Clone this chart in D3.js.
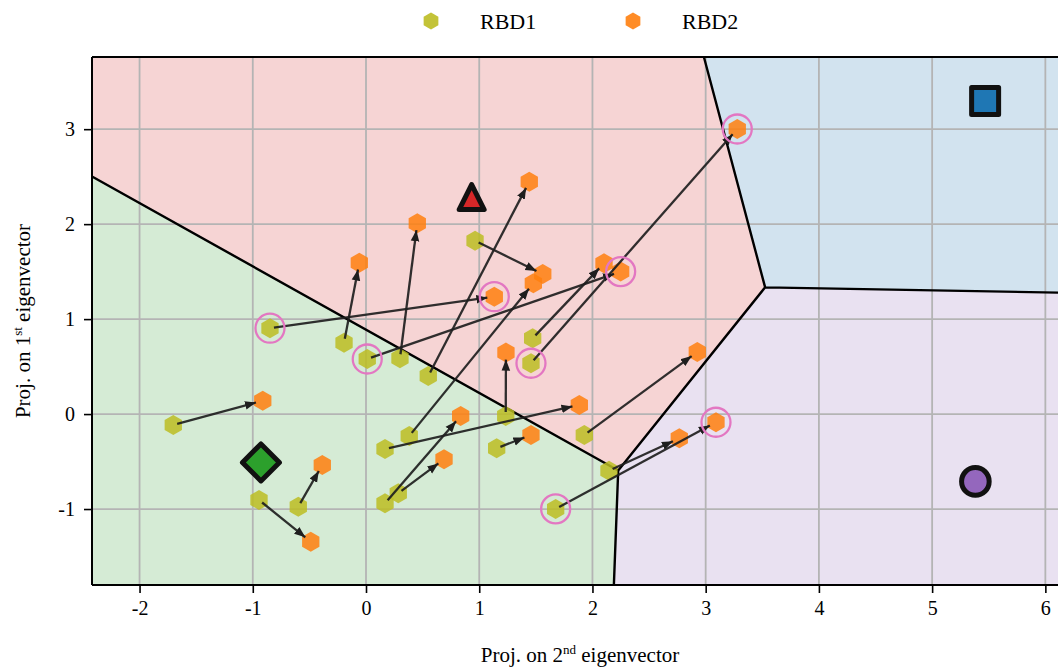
<!DOCTYPE html>
<html>
<head>
<meta charset="utf-8">
<script src="https://cdn.jsdelivr.net/npm/d3@7"></script>
<style>
  html, body { margin: 0; padding: 0; background: #ffffff; }
  svg { display: block; font-family: "Liberation Serif", "Times New Roman", serif; }
  svg text { font-family: "Liberation Serif", "Times New Roman", serif !important; }
</style>
</head>
<body>
<svg id="chart" width="1058" height="668"></svg>
<script>
// Class centroids (projection on 2nd / 1st eigenvector)
const centroidNames = ["red", "blue", "purple", "green"];
const centroidX = [0.933, 5.468, 5.382, -0.928];
const centroidY = [2.285, 3.296, -0.709, -0.509];
const centroidShapes = ["triangle", "square", "circle", "diamond"];

// Paired samples: RBD1 -> RBD2
const rbd1X = [-1.702, -0.848, -0.194, 0.011, 0.300, 0.550, 0.963, 1.472, 1.457, 1.234,
               0.168, 1.928, 1.154, 2.146, 1.675, 0.382, 0.168, 0.285, -0.945, -0.598];
const rbd1Y = [-0.115, 0.904, 0.752, 0.580, 0.588, 0.401, 1.825, 0.798, 0.535, -0.020,
               -0.368, -0.220, -0.360, -0.596, -0.999, -0.231, -0.939, -0.834, -0.905, -0.975];
const rbd2X = [-0.912, 1.133, -0.059, 2.249, 0.453, 1.442, 1.561, 2.102, 3.279, 1.236,
               1.884, 2.926, 1.457, 2.767, 3.091, 1.478, 0.836, 0.689, -0.488, -0.386];
const rbd2Y = [0.141, 1.236, 1.594, 1.500, 2.009, 2.447, 1.475, 1.588, 3.002, 0.647,
               0.096, 0.654, -0.220, -0.255, -0.086, 1.377, -0.020, -0.476, -1.344, -0.536];
const highlighted = [false, true, false, true, false, false, false, false, true, false,
                     false, false, false, false, true, false, false, false, false, false];

const seriesNames = ["RBD1", "RBD2"];
const xTicks = [-2, -1, 0, 1, 2, 3, 4, 5, 6];
const yTicks = [-1, 0, 1, 2, 3];

const colors = {
  red: "#d62728", blue: "#1f77b4", purple: "#9467bd", green: "#2ca02c",
  RBD1: "#bcbd22", RBD2: "#ff7f0e"
};
const regionFill = { red: "#f6d4d4", blue: "#d2e3ef", purple: "#e9e1f1", green: "#d5ebd5" };

const svg = d3.select("#chart");
const plotL = 92, plotR = 1068, plotT = 57, plotB = 585;
const xDomain = [-2.42, 6.2], yDomain = [-1.80, 3.76];
const x = d3.scaleLinear().domain(xDomain).range([plotL, plotR]);
const y = d3.scaleLinear().domain(yDomain).range([plotB, plotT]);

// Decision regions: Voronoi cells of the centroids, computed in data space
const centroids = centroidX.map((cx, i) => ({ x: cx, y: centroidY[i], name: centroidNames[i], shape: centroidShapes[i] }));
const delaunay = d3.Delaunay.from(centroids, d => d.x, d => d.y);
const voronoi = delaunay.voronoi([xDomain[0], yDomain[0], xDomain[1], yDomain[1]]);

const plot = svg.append("g");
plot.selectAll("path.region").data(centroids).join("path")
  .attr("class", "region")
  .attr("d", (d, i) => {
    const poly = voronoi.cellPolygon(i);
    return "M" + poly.map(p => [x(p[0]), y(p[1])].join(",")).join("L") + "Z";
  })
  .attr("fill", d => regionFill[d.name]);

// grid
plot.selectAll("line.gx").data(xTicks).join("line")
  .attr("class", "gx")
  .attr("x1", d => x(d)).attr("x2", d => x(d)).attr("y1", plotT).attr("y2", plotB)
  .attr("stroke", "#b4b4b4").attr("stroke-width", 1.8);
plot.selectAll("line.gy").data(yTicks).join("line")
  .attr("class", "gy")
  .attr("y1", d => y(d)).attr("y2", d => y(d)).attr("x1", plotL).attr("x2", plotR)
  .attr("stroke", "#b4b4b4").attr("stroke-width", 1.8);

// region boundaries, drawn through a context that maps data -> pixels
const bpath = d3.path();
const ctx = {
  moveTo: (a, b) => bpath.moveTo(x(a), y(b)),
  lineTo: (a, b) => bpath.lineTo(x(a), y(b)),
  closePath: () => bpath.closePath()
};
voronoi.render(ctx);
plot.append("path").attr("d", bpath.toString())
  .attr("fill", "none").attr("stroke", "#000").attr("stroke-width", 2.4);

// hexagon marker (pointy top)
function hexPath(r) {
  const pts = d3.range(6).map(k => {
    const a = Math.PI / 2 + k * Math.PI / 3;
    return [r * Math.cos(a), -r * Math.sin(a)];
  });
  return "M" + pts.map(p => p.join(",")).join("L") + "Z";
}

const pairs = rbd1X.map((v, i) => ({
  x1: v, y1: rbd1Y[i], x2: rbd2X[i], y2: rbd2Y[i], hl: highlighted[i]
}));

plot.selectAll("path.rbd1").data(pairs).join("path")
  .attr("class", "rbd1")
  .attr("d", hexPath(10))
  .attr("transform", d => `translate(${x(d.x1)},${y(d.y1)})`)
  .attr("fill", colors.RBD1).attr("fill-opacity", 0.85);
plot.selectAll("path.rbd2").data(pairs).join("path")
  .attr("class", "rbd2")
  .attr("d", hexPath(10))
  .attr("transform", d => `translate(${x(d.x2)},${y(d.y2)})`)
  .attr("fill", colors.RBD2).attr("fill-opacity", 0.85);

// arrows
const defs = svg.append("defs");
defs.append("marker").attr("id", "head")
  .attr("viewBox", "0 -5 11 10").attr("refX", 11).attr("refY", 0)
  .attr("markerUnits", "userSpaceOnUse").attr("markerWidth", 11).attr("markerHeight", 10)
  .attr("orient", "auto")
  .append("path").attr("d", "M0,-4.3L11,0L0,4.3Z").attr("fill", "#1e1e1e");

plot.selectAll("line.arrow").data(pairs).join("line")
  .attr("class", "arrow")
  .each(function (d) {
    const ax = x(d.x1), ay = y(d.y1), bx = x(d.x2), by = y(d.y2);
    const len = Math.hypot(bx - ax, by - ay);
    const ux = (bx - ax) / len, uy = (by - ay) / len;
    d3.select(this)
      .attr("x1", ax + ux * 4).attr("y1", ay + uy * 4)
      .attr("x2", bx - ux * 7).attr("y2", by - uy * 7);
  })
  .attr("stroke", "#1e1e1e").attr("stroke-opacity", 0.92).attr("stroke-width", 2.3)
  .attr("marker-end", "url(#head)");

// highlight rings
const ringPts = pairs.filter(d => d.hl).flatMap(d => [[d.x1, d.y1], [d.x2, d.y2]]);
plot.selectAll("circle.ring").data(ringPts).join("circle")
  .attr("class", "ring")
  .attr("cx", d => x(d[0])).attr("cy", d => y(d[1])).attr("r", 14.5)
  .attr("fill", "none").attr("stroke", "#e377c2").attr("stroke-width", 2.3);

// centroid markers
function centroidPath(shape) {
  if (shape === "triangle") { const s = 12.5; return `M0,${-s}L${s},${s}L${-s},${s}Z`; }
  if (shape === "square") { const s = 13.5; return `M${-s},${-s}L${s},${-s}L${s},${s}L${-s},${s}Z`; }
  if (shape === "diamond") { const s = 18.5; return `M0,${-s}L${s},0L0,${s}L${-s},0Z`; }
  const r = 13.8;
  return `M${r},0A${r},${r} 0 1,1 ${-r},0A${r},${r} 0 1,1 ${r},0Z`;
}
plot.selectAll("path.centroid").data(centroids).join("path")
  .attr("class", "centroid")
  .attr("d", d => centroidPath(d.shape))
  .attr("transform", d => `translate(${x(d.x)},${y(d.y)})`)
  .attr("fill", d => colors[d.name])
  .attr("stroke", "#111").attr("stroke-width", 5).attr("stroke-linejoin", "round");

// frame
const frame = svg.append("g").attr("stroke", "#000").attr("stroke-width", 2);
frame.append("line").attr("x1", plotL).attr("x2", plotR).attr("y1", plotT).attr("y2", plotT);
frame.append("line").attr("x1", plotL).attr("x2", plotR).attr("y1", plotB).attr("y2", plotB);
frame.append("line").attr("x1", plotL).attr("x2", plotL).attr("y1", plotT).attr("y2", plotB);

// axes
const xAxis = d3.axisBottom(x).tickValues(xTicks).tickSize(8).tickPadding(8).tickFormat(d3.format("d"));
const yAxis = d3.axisLeft(y).tickValues(yTicks).tickSize(8).tickPadding(9).tickFormat(d3.format("d"));
const gx = svg.append("g").attr("transform", `translate(0,${plotB})`).call(xAxis);
const gy = svg.append("g").attr("transform", `translate(${plotL},0)`).call(yAxis);
[gx, gy].forEach(g => {
  g.attr("font-family", null).attr("font-size", null);
  g.select(".domain").remove();
  g.selectAll(".tick line").attr("stroke", "#000").attr("stroke-width", 1.6);
  g.selectAll(".tick text").attr("fill", "#000")
    .style("font-size", "20px")
    .style("font-family", "'Liberation Serif', serif")
    .text(d => String(d));
});

// axis titles
const xl = svg.append("text").attr("x", 580).attr("y", 662).attr("text-anchor", "middle")
  .attr("font-size", 21).attr("fill", "#000");
xl.append("tspan").text("Proj. on 2");
xl.append("tspan").attr("font-size", 13).attr("dy", -8).text("nd");
xl.append("tspan").attr("dy", 8).text(" eigenvector");

const yl = svg.append("text").attr("transform", "translate(30,321) rotate(-90)")
  .attr("text-anchor", "middle").attr("font-size", 21).attr("fill", "#000");
yl.append("tspan").text("Proj. on 1");
yl.append("tspan").attr("font-size", 13).attr("dy", -8).text("st");
yl.append("tspan").attr("dy", 8).text(" eigenvector");

// legend
const legendX = [431, 633];
const lg = svg.append("g");
seriesNames.forEach((name, i) => {
  lg.append("path").attr("d", hexPath(8.5))
    .attr("transform", `translate(${legendX[i]},21)`)
    .attr("fill", colors[name]).attr("fill-opacity", 0.9);
  lg.append("text").attr("x", legendX[i] + 49).attr("y", 29)
    .attr("font-size", 22).attr("fill", "#000").text(name);
});
</script>
</body>
</html>
